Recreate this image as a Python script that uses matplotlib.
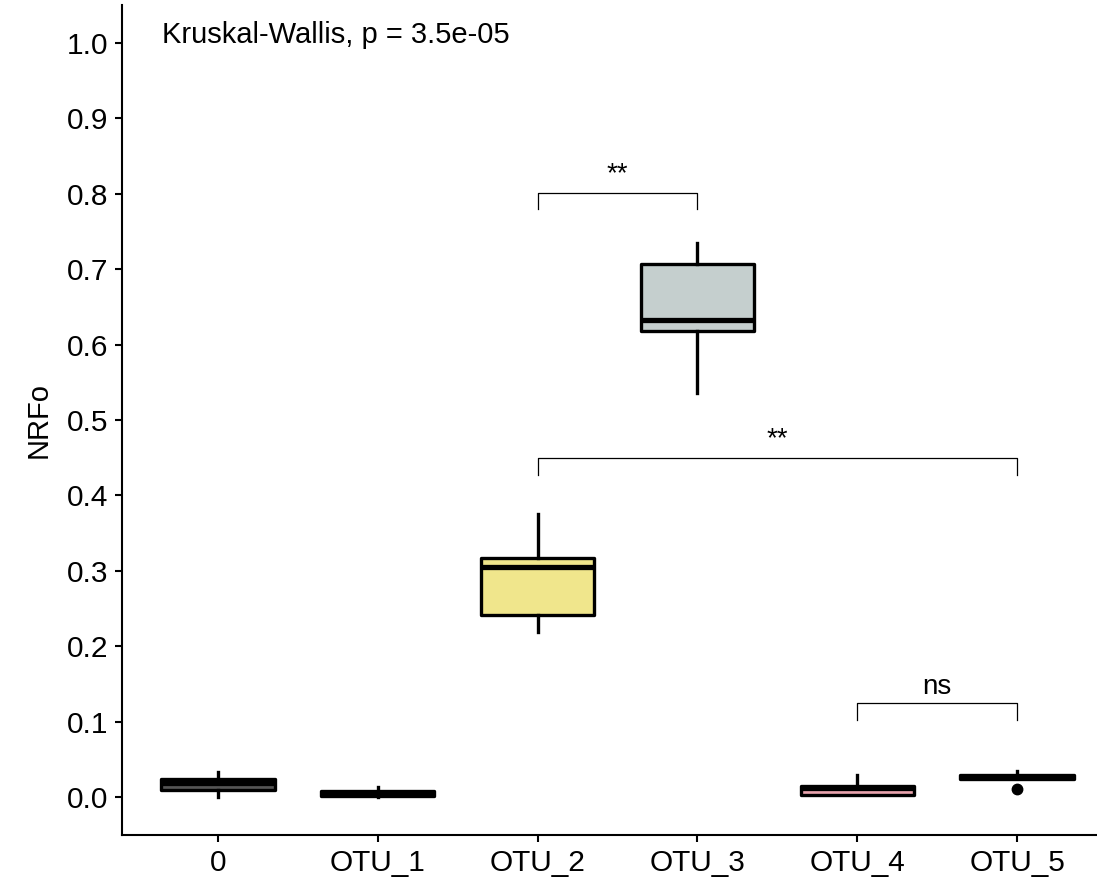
import matplotlib
matplotlib.use("Agg")
import matplotlib.pyplot as plt

plt.rcParams["font.family"] = ["Liberation Sans", "DejaVu Sans"]

# ==========================================
# Data
# ==========================================

groups = ["0", "OTU_1", "OTU_2", "OTU_3", "OTU_4", "OTU_5"]
q1 = [0.0093, 0.0013, 0.242, 0.6185, 0.0026, 0.0248]
med = [0.0183, 0.0045, 0.3046, 0.632, 0.0117, 0.0275]
q3 = [0.0247, 0.0080, 0.3166, 0.707, 0.0146, 0.0300]
whislo = [0.0, 0.0, 0.2185, 0.536, 0.0026, 0.0248]
whishi = [0.034, 0.0136, 0.376, 0.735, 0.030, 0.0348]
fliers = [[], [], [], [], [], [0.0115]]
fills = ["#555555", "#222222", "#F0E68C", "#C5CFCE", "#E8A3AD", "#222222"]

# significance brackets: (group a, group b, height, label)
brk_a = [3, 3, 5]
brk_b = [4, 6, 6]
brk_y = [0.801, 0.449, 0.1245]
brk_lab = ["**", "**", "ns"]

kw_label = "Kruskal-Wallis, p = 3.5e-05"

# ==========================================
# Figure
# ==========================================

fig = plt.figure(figsize=(10.97, 8.85), dpi=100)
ax = fig.add_axes([122 / 1097, 1 - 835 / 885, 991 / 1097, 830 / 885])

stats = []
for i in range(len(groups)):
    stats.append({
        "med": med[i], "q1": q1[i], "q3": q3[i],
        "whislo": whislo[i], "whishi": whishi[i],
        "fliers": fliers[i], "label": groups[i],
    })

pos = list(range(1, len(groups) + 1))
bp = ax.bxp(
    stats, positions=pos, widths=0.71, patch_artist=True, showcaps=False,
    boxprops=dict(linewidth=2.4, edgecolor="black"),
    medianprops=dict(linewidth=3.8, color="black", solid_capstyle="butt"),
    whiskerprops=dict(linewidth=2.4, color="black"),
    flierprops=dict(marker="o", markerfacecolor="black", markeredgecolor="black",
                    markersize=7.5),
)
for patch, c in zip(bp["boxes"], fills):
    patch.set_facecolor(c)
    patch.set_joinstyle("round")

# brackets
tip = 0.022
for a, b, y, lab in zip(brk_a, brk_b, brk_y, brk_lab):
    off = 0.008 if lab == "**" else 0.004
    ax.plot([a, a, b, b], [y - tip, y, y, y - tip], color="black", lw=0.9)
    ax.text((a + b) / 2, y + off, lab, ha="center", va="bottom", fontsize=20)

ax.text(0.65, 1.0, kw_label, ha="left", va="baseline", fontsize=21)

ax.set_xlim(0.4, 6.6)
ax.set_ylim(-0.05, 1.05)
ax.set_xticks(pos)
ax.set_xticklabels(groups)
ax.set_yticks([i / 10 for i in range(11)])
ax.set_yticklabels([f"{i / 10:.1f}" for i in range(11)])
ax.set_ylabel("NRFo", fontsize=21, labelpad=10)

for s in ["top", "right"]:
    ax.spines[s].set_visible(False)
for s in ["left", "bottom"]:
    ax.spines[s].set_linewidth(1.5)
ax.tick_params(axis="both", labelsize=21.5, length=5, width=1.5, pad=5)

fig.savefig("out.png", dpi=100)
